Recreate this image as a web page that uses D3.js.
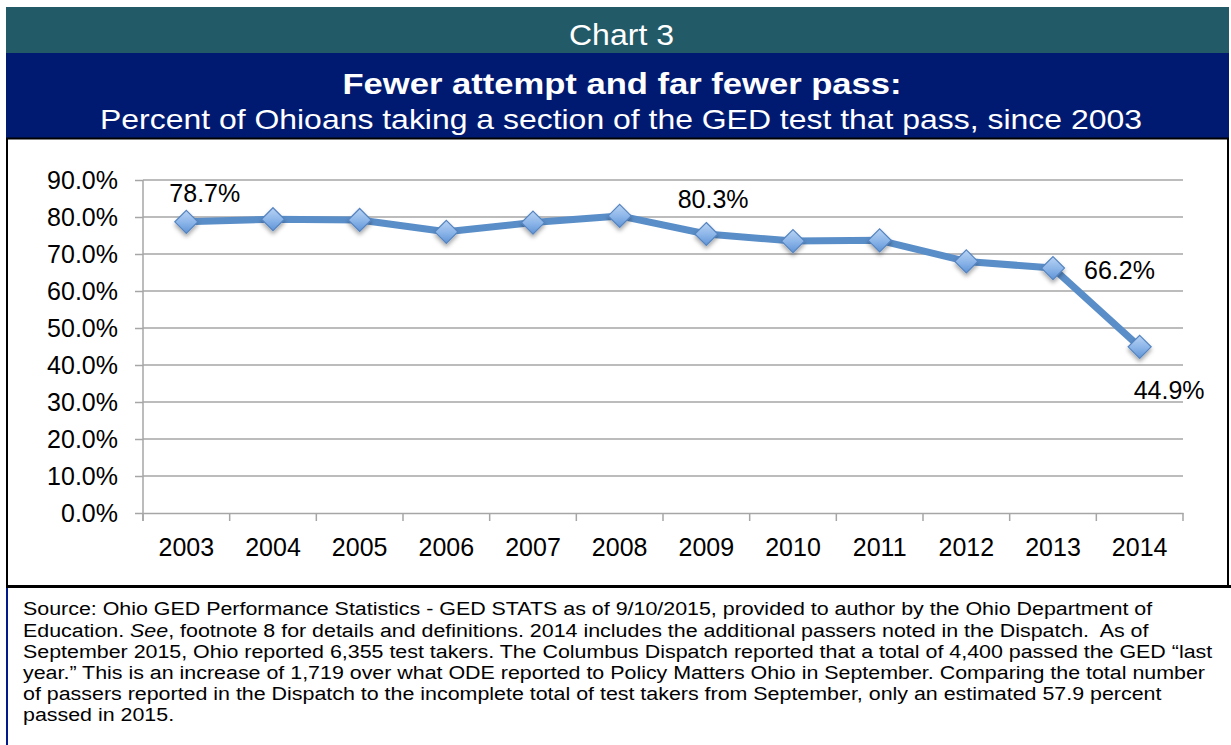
<!DOCTYPE html>
<html><head><meta charset="utf-8">
<script src="https://cdn.jsdelivr.net/npm/d3@7"></script>
<style>
html,body{margin:0;padding:0;background:#fff;}
svg{display:block;font-family:"Liberation Sans",Arial,sans-serif;}
</style></head>
<body>
<svg id="c" width="1231" height="745"></svg>
<script>
// ---- data ----
const years = ["2003","2004","2005","2006","2007","2008","2009","2010","2011","2012","2013","2014"];
const passRate = [78.7, 79.4, 79.2, 76.0, 78.5, 80.3, 75.4, 73.5, 73.7, 68.0, 66.2, 44.9];
const yTicks = [0, 10, 20, 30, 40, 50, 60, 70, 80, 90];
const labeledYears = ["2003","2008","2013","2014"];
const headerText = "Chart 3";
const titleText = "Fewer attempt and far fewer pass:";
const subtitleText = "Percent of Ohioans taking a section of the GED test that pass, since 2003";
const footerLines = [
  [{t:"Source: Ohio GED Performance Statistics - GED STATS as of 9/10/2015, provided to author by the Ohio Department of"}],
  [{t:"Education. "},{t:"See",i:true},{t:", footnote 8 for details and definitions. 2014 includes the additional passers noted in the Dispatch.\u00A0 As of"}],
  [{t:"September 2015, Ohio reported 6,355 test takers. The Columbus Dispatch reported that a total of 4,400 passed the GED \u201Clast"}],
  [{t:"year.\u201D This is an increase of 1,719 over what ODE reported to Policy Matters Ohio in September. Comparing the total number"}],
  [{t:"of passers reported in the Dispatch to the incomplete total of test takers from September, only an estimated 57.9 percent"}],
  [{t:"passed in 2015."}]
];

// ---- layout ----
const svg = d3.select("#c");
const defs = svg.append("defs");
const grad = defs.append("linearGradient").attr("id","mk").attr("x1",0).attr("y1",0).attr("x2",0).attr("y2",1);
grad.append("stop").attr("offset","0%").attr("stop-color","#b9d3f3");
grad.append("stop").attr("offset","55%").attr("stop-color","#8ab4e8");
grad.append("stop").attr("offset","100%").attr("stop-color","#5f93d6");
const flt = defs.append("filter").attr("id","sh").attr("x","-50%").attr("y","-50%").attr("width","200%").attr("height","200%");
flt.append("feDropShadow").attr("dx",0).attr("dy",3).attr("stdDeviation",2).attr("flood-color","#000").attr("flood-opacity",0.35);

// header bands
svg.append("rect").attr("x",6).attr("y",7).attr("width",1223).attr("height",46).attr("fill","#235a68");
svg.append("rect").attr("x",6).attr("y",53).attr("width",1223).attr("height",85).attr("fill","#001a72");
svg.append("text").attr("x",621.5).attr("y",45).attr("text-anchor","middle").attr("fill","#fff")
  .attr("font-size",29).attr("textLength",105).attr("lengthAdjust","spacingAndGlyphs").text(headerText);
svg.append("text").attr("x",622).attr("y",93.5).attr("text-anchor","middle").attr("fill","#fff")
  .attr("font-size",29).attr("font-weight","bold").attr("textLength",559).attr("lengthAdjust","spacingAndGlyphs").text(titleText);
svg.append("text").attr("x",621).attr("y",129).attr("text-anchor","middle").attr("fill","#fff")
  .attr("font-size",28.5).attr("textLength",1042).attr("lengthAdjust","spacingAndGlyphs").text(subtitleText);

// chart area borders
svg.append("line").attr("x1",6).attr("x2",1229).attr("y1",138.5).attr("y2",138.5).attr("stroke","#000").attr("stroke-width",2);
svg.append("line").attr("x1",7).attr("x2",7).attr("y1",138).attr("y2",587).attr("stroke","#000").attr("stroke-width",2);
svg.append("line").attr("x1",1228).attr("x2",1228).attr("y1",138).attr("y2",587).attr("stroke","#000").attr("stroke-width",2);
svg.append("line").attr("x1",6).attr("x2",1231).attr("y1",586.5).attr("y2",586.5).attr("stroke","#000").attr("stroke-width",3);
svg.append("line").attr("x1",7).attr("x2",7).attr("y1",588).attr("y2",745).attr("stroke","#001a8a").attr("stroke-width",2);

// scales
const x = d3.scaleBand().domain(years).range([143,1183]).padding(0);
const y = d3.scaleLinear().domain([0,90]).range([513,180]);
const cx = d => x(d) + x.bandwidth()/2;

// gridlines
svg.append("g").selectAll("line").data(yTicks.filter(v=>v>0)).join("line")
  .attr("x1",143).attr("x2",1183).attr("y1",d=>y(d)).attr("y2",d=>y(d))
  .attr("stroke","#a6a6a6").attr("stroke-width",1.5);

// y axis
const yAxis = svg.append("g").attr("transform","translate(143,0)")
  .call(d3.axisLeft(y).tickValues(yTicks).tickSize(8).tickPadding(17).tickFormat(d=>d3.format(".1f")(d)+"%"));
yAxis.select(".domain").attr("stroke","#a6a6a6").attr("stroke-width",1.5).attr("d","M0,180V521");
yAxis.selectAll(".tick line").attr("stroke","#a6a6a6").attr("stroke-width",1.5);
yAxis.selectAll(".tick text").attr("font-size",25).attr("fill","#000").attr("font-family","Liberation Sans, Arial, sans-serif").attr("dy","0.34em");

// x axis
const xAxis = svg.append("g").attr("transform","translate(0,513)")
  .call(d3.axisBottom(x).tickSize(0).tickPadding(25));
xAxis.select(".domain").attr("stroke","#a6a6a6").attr("stroke-width",1.5);
xAxis.selectAll(".tick text").attr("font-size",25).attr("fill","#000").attr("font-family","Liberation Sans, Arial, sans-serif").attr("dy","0.71em");
xAxis.selectAll(".bnd").data(years.concat(["end"])).join("line")
  .attr("x1",(d,i)=>143 + i*x.bandwidth()).attr("x2",(d,i)=>143 + i*x.bandwidth())
  .attr("y1",0).attr("y2",8).attr("stroke","#a6a6a6").attr("stroke-width",1.5);

// line
const pts = years.map((yr,i)=>({yr, v:passRate[i]}));
svg.append("path").datum(pts)
  .attr("d", d3.line().x(d=>cx(d.yr)).y(d=>y(d.v)))
  .attr("fill","none").attr("stroke","#5a8ec8").attr("stroke-width",7).attr("stroke-linejoin","round");

// markers
const r = 11.5;
svg.append("g").selectAll("path").data(pts).join("path")
  .attr("d", d=>{const X=cx(d.yr),Y=y(d.v);return `M${X},${Y-r}L${X+r},${Y}L${X},${Y+r}L${X-r},${Y}Z`;})
  .attr("fill","url(#mk)").attr("stroke","#5584c0").attr("stroke-width",1.2).attr("filter","url(#sh)");

// data labels (placement offsets from the point)
const labelPlacement = {"2003":[-17,-20],"2008":[58,-8],"2013":[31,11],"2014":[-6,52]};
svg.append("g").selectAll("text").data(pts.filter(d=>labeledYears.includes(d.yr))).join("text")
  .attr("x",d=>cx(d.yr)+labelPlacement[d.yr][0])
  .attr("y",d=>y(d.v)+labelPlacement[d.yr][1])
  .attr("font-size",25).attr("fill","#000")
  .text(d=>d3.format(".1f")(d.v)+"%");

// footer (text in the reference is horizontally stretched)
const ft = svg.append("g").attr("transform","translate(23,0) scale(1.19,1)");
footerLines.forEach((line,i)=>{
  const t = ft.append("text").attr("x",0).attr("y",615.5 + i*21.2).attr("font-size",18).attr("fill","#000");
  line.forEach(seg=>{
    t.append("tspan").attr("font-style",seg.i?"italic":null).text(seg.t);
  });
});
</script>
</body></html>
